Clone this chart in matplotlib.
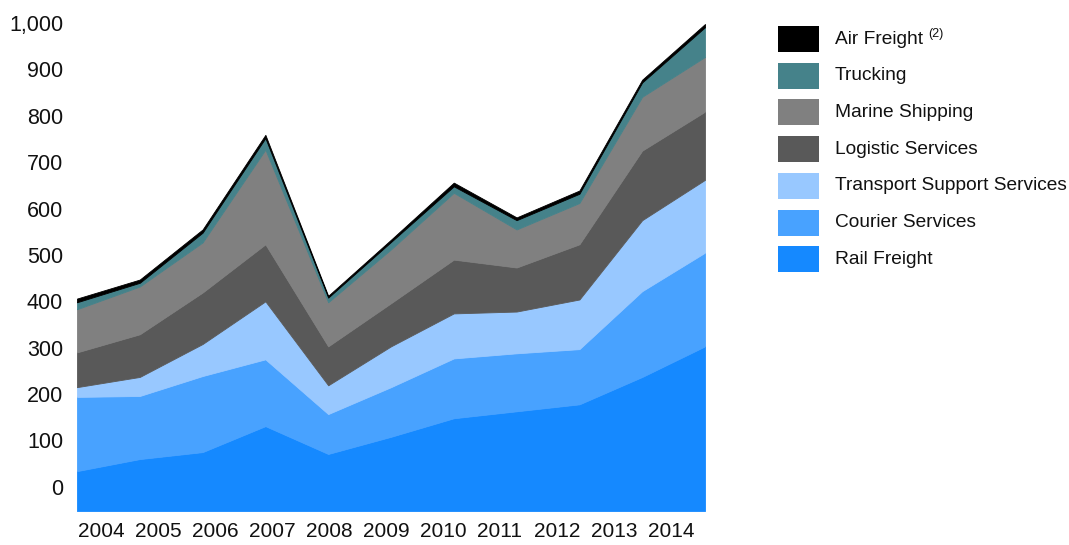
import numpy as np
import matplotlib
matplotlib.use("Agg")
import matplotlib.pyplot as plt
from matplotlib.patches import Rectangle

plt.rcParams['font.family'] = ['Liberation Sans', 'DejaVu Sans']

# data (stack order bottom -> top)
years = ["2004", "2005", "2006", "2007", "2008", "2009", "2010", "2011", "2012", "2013", "2014"]
rail_freight = [34, 60, 75, 131, 71, 108, 148, 163, 178, 237, 303]
courier_services = [160, 136, 164, 144, 86, 107, 129, 125, 119, 185, 202]
transport_support = [21, 41, 69, 125, 62, 88, 97, 90, 107, 153, 157]
logistic_services = [75, 92, 111, 123, 84, 93, 116, 95, 119, 150, 147]
marine_shipping = [93, 103, 108, 204, 95, 116, 144, 82, 89, 116, 118]
trucking = [15, 8, 21, 25, 10, 16, 14, 20, 20, 31, 64]
air_freight = [8, 7, 7, 7, 4, 5, 8, 6, 7, 6, 7]

series = [rail_freight, courier_services, transport_support, logistic_services,
          marine_shipping, trucking, air_freight]
labels = ["Rail Freight", "Courier Services", "Transport Support Services",
          "Logistic Services", "Marine Shipping", "Trucking", "Air Freight"]
colors = ["#1589FF", "#48A2FF", "#98C8FF", "#595959", "#808080", "#45828A", "#000000"]

fig = plt.figure(figsize=(10.69, 5.45), dpi=100)
ax = fig.add_axes([0.0720, 0.0624, 0.5875, 0.9038])

ymin, ymax = -52, 1010
x = np.arange(len(years))
tops = np.cumsum(np.array(series, dtype=float), axis=0)
lower = np.full(len(years), float(ymin))
for top, col in zip(tops, colors):
    ax.fill_between(x, lower, top, facecolor=col, edgecolor=col, lw=0.6)
    lower = top

ax.set_xlim(0, len(years) - 1)
ax.set_ylim(ymin, ymax)
for s in ax.spines.values():
    s.set_visible(False)

# category labels sit slightly off the data points, as in the original
ax.set_xticks(0.382 + 0.9076 * x)
ax.set_xticklabels(years)
ax.set_yticks(np.arange(0, 1001, 100))
ax.set_yticklabels([f"{v:,}" for v in range(0, 1001, 100)])
ax.tick_params(axis='x', length=0, pad=8, labelsize=15, colors='#111111')
ax.tick_params(axis='y', length=0, pad=10, labelsize=15.5, colors='#111111')

# legend drawn by hand (top entry first)
W, H = 1069.0, 545.0
row0, step = 39.0, 36.7
fig.canvas.draw()
renderer = fig.canvas.get_renderer()
for i, (lab, col) in enumerate(zip(labels[::-1], colors[::-1])):
    cy = row0 + i * step
    fig.patches.append(Rectangle((778 / W, 1 - (cy + 13) / H), 41 / W, 26 / H,
                                 transform=fig.transFigure, facecolor=col,
                                 edgecolor='none'))
    t = fig.text(835 / W, 1 - cy / H, lab, fontsize=13.8, va='center', ha='left',
                 color='#111111')
    if lab == "Air Freight":
        bb = t.get_window_extent(renderer)
        fig.text((bb.x1 + 5) / W, 1 - (cy - 5) / H, "(2)", fontsize=9,
                 va='center', ha='left', color='#111111')

fig.savefig("out.png", dpi=100)
